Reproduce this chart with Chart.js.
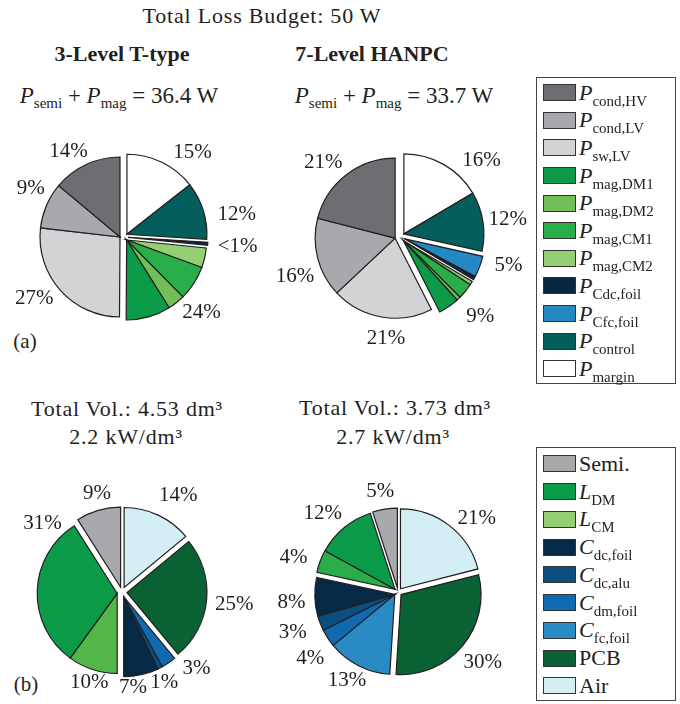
<!DOCTYPE html>
<html>
<head>
<meta charset="utf-8">
<script src="https://cdn.jsdelivr.net/npm/chart.js@4.4.0/dist/chart.umd.min.js"></script>
<style>
  body { margin: 0; background: #fff; overflow: hidden; }
  #fig { position: relative; width: 680px; height: 704px; font-family: serif; color: #231f20; }
  .txt { position: absolute; white-space: nowrap; transform: translate(-50%, -50%); line-height: 1; font-size: 21px; }
  .wide { font-size: 22px; letter-spacing: 0.8px; }
  .bold { font-weight: bold; font-size: 22px; }
  .sub { font-size: 15px; position: relative; top: 5px; }
  canvas { position: absolute; }
  .legend { position: absolute; left: 536px; width: 140px; border: 1px solid #444; box-sizing: border-box; background: #fff; }
  .row { display: flex; align-items: center; }
  .sw { flex: none; width: 31px; height: 15px; border: 1.5px solid #333; margin: 0 3px 0 6px; }
  .lab { font-size: 22px; line-height: 1; white-space: nowrap; }
  .lab .sub { font-size: 15px; top: 6px; }
</style>
</head>
<body>
<div id="fig">
  <div class="txt wide" style="left:262px;top:16px">Total Loss Budget: 50 W</div>
  <div class="txt bold" style="left:122px;top:54px">3-Level T-type</div>
  <div class="txt bold" style="left:372px;top:54px">7-Level HANPC</div>
  <div class="txt" style="left:119px;top:95px;font-size:23px"><i>P</i><span class="sub">semi</span> + <i>P</i><span class="sub">mag</span> = 36.4 W</div>
  <div class="txt" style="left:394px;top:95px;font-size:23px"><i>P</i><span class="sub">semi</span> + <i>P</i><span class="sub">mag</span> = 33.7 W</div>
  <div class="txt" style="left:25px;top:341px">(a)</div>
  <div class="txt wide" style="left:127px;top:409px">Total Vol.: 4.53 dm³</div>
  <div class="txt wide" style="left:126px;top:437px">2.2 kW/dm³</div>
  <div class="txt wide" style="left:395px;top:408px">Total Vol.: 3.73 dm³</div>
  <div class="txt wide" style="left:393px;top:437px">2.7 kW/dm³</div>
  <div class="txt" style="left:26px;top:684px">(b)</div>

  <canvas id="pieLossT" width="300" height="300" style="left:-26px;top:87px"></canvas>
  <canvas id="pieLossH" width="300" height="300" style="left:250px;top:87px"></canvas>
  <canvas id="pieVolT" width="300" height="300" style="left:-28px;top:442px"></canvas>
  <canvas id="pieVolH" width="300" height="300" style="left:248px;top:442px"></canvas>

  <div class="legend" id="legLoss" style="top:77px;height:307px;padding-top:1px"></div>
  <div class="legend" id="legVol" style="top:447px;height:254px;padding-top:2px"></div>
</div>

<script>
// Loss breakdown, in legend order (pies run clockwise in reverse order)
const lossNames = ["P_cond,HV", "P_cond,LV", "P_sw,LV", "P_mag,DM1", "P_mag,DM2", "P_mag,CM1",
                   "P_mag,CM2", "P_Cdc,foil", "P_Cfc,foil", "P_control", "P_margin"];
const lossColors = ["#6d6e71", "#a7a9ac", "#d1d3d4", "#0b9a48", "#72bf56", "#2aae4a",
                    "#94cf73", "#062842", "#2489c3", "#045f5c", "#ffffff"];
const lossTType = [13.9, 9.3, 26.7, 9, 3.5, 7, 4, 0.6, 0, 11.6, 14.4];
const lossHanpc = [21, 16, 20.5, 4.2, 0.8, 3.2, 0.8, 0.7, 4.3, 12, 16.5];
const lossGroups = [0, 0, 0, 1, 1, 1, 1, 2, 2, 3, 3];
const lossLabelOf = [0, 1, 2, 3, 3, 3, 3, 4, 4, 5, 6];
const lossLabelsTType = ["14%", "9%", "27%", "24%", "<1%", "12%", "15%"];
const lossLabelsHanpc = ["21%", "16%", "21%", "9%", "5%", "12%", "16%"];

// Volume breakdown
const volNames = ["Semi.", "L_DM", "L_CM", "C_dc,foil", "C_dc,alu", "C_dm,foil", "C_fc,foil", "PCB", "Air"];
const volColors = ["#a7a9ac", "#0b9a48", "#94cf73", "#062a45", "#0b4f81", "#1169b1", "#2a8bc4", "#0a6234", "#d3eef4"];
const volColorsTType = ["#a7a9ac", "#0b9a48", "#52b748", "#062a45", "#0b4f81", "#1169b1", "#2a8bc4", "#0a6234", "#d3eef4"];
const volColorsHanpc = ["#a7a9ac", "#0b9a48", "#2aad4a", "#062a45", "#0b4f81", "#1169b1", "#2a8bc4", "#0a6234", "#d3eef4"];
const volTType = [9, 31, 10, 7, 1, 3, 0, 25, 14];
const volHanpc = [5, 12, 4.6, 7.8, 3, 3.6, 13, 30, 21];
const volGroups = [0, 1, 1, 2, 2, 2, 2, 3, 4];
const volLabelOfTType = [0, 1, 2, 3, 4, 5, 5, 6, 7];
const volLabelsTType = ["9%", "31%", "10%", "7%", "1%", "3%", "25%", "14%"];
const volLabelOfHanpc = [0, 1, 2, 3, 4, 5, 6, 7, 8];
const volLabelsHanpc = ["5%", "12%", "4%", "8%", "3%", "4%", "13%", "30%", "21%"];

// label placement: turn (deg) from slice middle, distance from centre (px)
const lossTurnT = [-8, 4, 7, -4, 0, 6, 13], lossDistT = [102, 105, 109, 108, 114, 115, 109];
const lossTurnH = [-8, -6, -2, -2, -7, 0, 17], lossDistH = [107, 112, 102, 113, 112, 109, 112];
const volTurnT = [2, 39, 2, 6, 2, -10, 1, 5], volDistT = [102, 105, 96, 96, 100, 107, 113, 112];
const volTurnH = [-1, -4, -2.5, -4, 0, -4, 3, 0, 9], volDistH = [102, 109, 110, 107, 113, 110, 102, 110, 108];

// moves groups of slices out together and writes the percentages
const pieGroups = {
  id: "pieGroups",
  afterDatasetsUpdate(chart, args, opts) {
    const arcs = chart.getDatasetMeta(0).data;
    const spans = {};
    arcs.forEach((arc, i) => {
      const g = opts.groups[i];
      if (!spans[g]) spans[g] = [arc.startAngle, arc.endAngle];
      else spans[g][1] = arc.endAngle;
    });
    arcs.forEach((arc, i) => {
      const s = spans[opts.groups[i]];
      const mid = (s[0] + s[1]) / 2;
      arc.x += Math.cos(mid) * opts.explode;
      arc.y += Math.sin(mid) * opts.explode;
    });
  },
  afterDatasetsDraw(chart, args, opts) {
    const ctx = chart.ctx;
    const arcs = chart.getDatasetMeta(0).data;
    const cx = (chart.chartArea.left + chart.chartArea.right) / 2;
    const cy = (chart.chartArea.top + chart.chartArea.bottom) / 2;
    ctx.save();
    ctx.font = "21px serif";
    ctx.fillStyle = "#231f20";
    ctx.textAlign = "center";
    ctx.textBaseline = "middle";
    opts.labels.forEach((text, k) => {
      let a0 = null, a1 = null;
      arcs.forEach((arc, i) => {
        if (opts.labelOf[i] === k) {
          if (a0 === null) a0 = arc.startAngle;
          a1 = arc.endAngle;
        }
      });
      if (a0 === null) return;
      const ang = (a0 + a1) / 2 + opts.turn[k] * Math.PI / 180;
      ctx.fillText(text, cx + Math.cos(ang) * opts.dist[k], cy + Math.sin(ang) * opts.dist[k]);
    });
    ctx.restore();
  }
};

function makePie(id, names, values, colors, groups, labelOf, labels, turn, dist, explode) {
  const idx = values.map((v, i) => i).filter(i => values[i] > 0).reverse();
  new Chart(document.getElementById(id), {
    type: "pie",
    data: {
      labels: idx.map(i => names[i]),
      datasets: [{
        data: idx.map(i => values[i]),
        backgroundColor: idx.map(i => colors[i]),
        borderColor: "#231f20",
        borderWidth: 1.2,
        borderJoinStyle: "miter"
      }]
    },
    options: {
      responsive: false,
      animation: false,
      events: [],
      radius: 80,
      layout: { padding: 0 },
      plugins: {
        legend: { display: false },
        tooltip: { enabled: false },
        pieGroups: {
          groups: idx.map(i => groups[i]),
          labelOf: idx.map(i => labelOf[i]),
          labels: labels, turn: turn, dist: dist, explode: explode
        }
      }
    },
    plugins: [pieGroups]
  });
}

function buildLegend(id, names, colors, rowH) {
  const box = document.getElementById(id);
  names.forEach((n, i) => {
    const row = document.createElement("div");
    row.className = "row";
    row.style.height = rowH + "px";
    const sw = document.createElement("div");
    sw.className = "sw";
    sw.style.background = colors[i];
    const lab = document.createElement("div");
    lab.className = "lab";
    const parts = n.split("_");
    lab.innerHTML = parts.length > 1 ? `<i>${parts[0]}</i><span class="sub">${parts[1]}</span>` : n;
    row.appendChild(sw);
    row.appendChild(lab);
    box.appendChild(row);
  });
}

makePie("pieLossT", lossNames, lossTType, lossColors, lossGroups, lossLabelOf, lossLabelsTType, lossTurnT, lossDistT, 4);
makePie("pieLossH", lossNames, lossHanpc, lossColors, lossGroups, lossLabelOf, lossLabelsHanpc, lossTurnH, lossDistH, 5);
makePie("pieVolT", volNames, volTType, volColorsTType, volGroups, volLabelOfTType, volLabelsTType, volTurnT, volDistT, 5);
makePie("pieVolH", volNames, volHanpc, volColorsHanpc, volGroups, volLabelOfHanpc, volLabelsHanpc, volTurnH, volDistH, 4);

buildLegend("legLoss", lossNames, lossColors, 27.6);
buildLegend("legVol", volNames, volColors, 27.75);
</script>
</body>
</html>
